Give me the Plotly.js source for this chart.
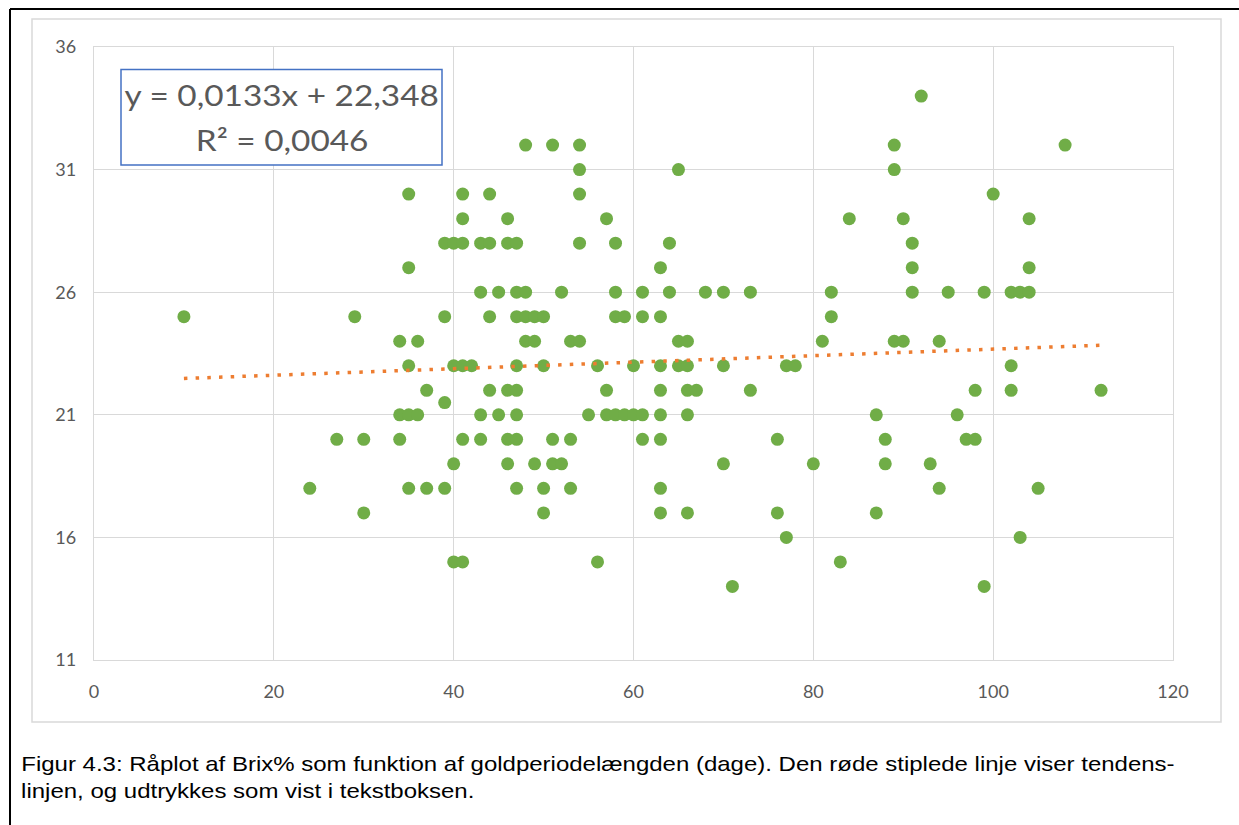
<!DOCTYPE html>
<html>
<head>
<meta charset="utf-8">
<script src="https://cdn.plot.ly/plotly-3.0.1.min.js"></script>
<style>
  html, body { margin: 0; padding: 0; background: #ffffff; }
  #chart { width: 1239px; height: 825px; }
</style>
</head>
<body>
<div id="chart"></div>
<script>
// Dry-period length (days) and Brix% per cow
const goldDays = [
  92,
  48, 51, 54, 89, 108,
  54, 65, 89,
  35, 41, 44, 54, 100,
  41, 46, 57, 84, 90, 104,
  39, 40, 41, 43, 44, 46, 47, 54, 58, 64, 91,
  35, 63, 91, 104,
  43, 45, 47, 48, 52, 58, 61, 64, 68, 70, 73, 82, 91, 95, 99, 102, 103, 104,
  10, 29, 39, 44, 47, 48, 49, 50, 58, 59, 61, 63, 82,
  34, 36, 48, 49, 53, 54, 65, 66, 81, 89, 90, 94,
  35, 40, 41, 42, 47, 50, 56, 60, 63, 65, 66, 70, 77, 78, 102,
  37, 44, 46, 47, 57, 63, 66, 67, 73, 98, 102, 112,
  39,
  34, 35, 36, 43, 45, 47, 55, 57, 58, 59, 60, 61, 63, 66, 87, 96,
  27, 30, 34, 41, 43, 46, 47, 51, 53, 61, 63, 76, 88, 97, 98,
  40, 46, 49, 51, 52, 70, 80, 88, 93,
  24, 35, 37, 39, 47, 50, 53, 63, 94, 105,
  30, 50, 63, 66, 76, 87,
  77, 103,
  40, 41, 56, 83,
  71, 99
];
const brixPct = [
  34,
  32, 32, 32, 32, 32,
  31, 31, 31,
  30, 30, 30, 30, 30,
  29, 29, 29, 29, 29, 29,
  28, 28, 28, 28, 28, 28, 28, 28, 28, 28, 28,
  27, 27, 27, 27,
  26, 26, 26, 26, 26, 26, 26, 26, 26, 26, 26, 26, 26, 26, 26, 26, 26, 26,
  25, 25, 25, 25, 25, 25, 25, 25, 25, 25, 25, 25, 25,
  24, 24, 24, 24, 24, 24, 24, 24, 24, 24, 24, 24,
  23, 23, 23, 23, 23, 23, 23, 23, 23, 23, 23, 23, 23, 23, 23,
  22, 22, 22, 22, 22, 22, 22, 22, 22, 22, 22, 22,
  21.5,
  21, 21, 21, 21, 21, 21, 21, 21, 21, 21, 21, 21, 21, 21, 21, 21,
  20, 20, 20, 20, 20, 20, 20, 20, 20, 20, 20, 20, 20, 20, 20,
  19, 19, 19, 19, 19, 19, 19, 19, 19,
  18, 18, 18, 18, 18, 18, 18, 18, 18, 18,
  17, 17, 17, 17, 17, 17,
  16, 16,
  15, 15, 15, 15,
  14, 14
];

// Linear trend line as printed in the text box
const trendSlope = 0.0133;
const trendIntercept = 22.348;
const trendLabel = 'y = 0,0133x + 22,348';
const r2Label = 'R² = 0,0046';

const xTicks = [0, 20, 40, 60, 80, 100, 120];
const yTicks = [11, 16, 21, 26, 31, 36];

const captionLines = [
  'Figur 4.3: Råplot af Brix% som funktion af goldperiodelængden (dage). Den røde stiplede linje viser tendens-',
  'linjen, og udtrykkes som vist i tekstboksen.'
];

const xMin = Math.min(...goldDays);
const xMax = Math.max(...goldDays);
const trendX = [xMin, xMax];
const trendY = trendX.map(x => trendSlope * x + trendIntercept);

// page geometry (pixels)
const PAGE_W = 1239, PAGE_H = 825;
const M = { l: 94, r: 66, t: 47, b: 165 };
const PW = PAGE_W - M.l - M.r;
const PH = PAGE_H - M.t - M.b;
const px = p => (p - M.l) / PW;
const py = p => (PAGE_H - M.b - p) / PH;

const gridColor = '#d9d9d9';
const labelColor = '#595959';
const labelFont = 'Lato, "Open Sans", sans-serif';
const captionFont = '"Liberation Sans", Arial, sans-serif';

const traces = [
  {
    x: goldDays, y: brixPct,
    type: 'scatter', mode: 'markers',
    marker: { color: '#70ad47', size: 13 },
    hoverinfo: 'x+y', showlegend: false
  },
  {
    x: trendX, y: trendY,
    type: 'scatter', mode: 'lines',
    line: { color: '#ed7d31', width: 3.5, dash: '3.5px,8.2px' },
    hoverinfo: 'skip', showlegend: false
  }
];

const layout = {
  width: PAGE_W, height: PAGE_H,
  margin: M,
  paper_bgcolor: '#ffffff', plot_bgcolor: '#ffffff',
  showlegend: false,
  xaxis: {
    range: [0, 120], tickvals: xTicks, ticktext: xTicks.map(String),
    showgrid: true, gridcolor: gridColor, gridwidth: 1.3,
    zeroline: false, showline: true, linecolor: gridColor, linewidth: 1.3, mirror: true,
    ticks: '', ticklabelstandoff: 15,
    tickfont: { family: labelFont, size: 18, color: labelColor },
    fixedrange: true
  },
  yaxis: {
    range: [11, 36], tickvals: yTicks, ticktext: yTicks.map(String),
    showgrid: true, gridcolor: gridColor, gridwidth: 1.3,
    zeroline: false, showline: true, linecolor: gridColor, linewidth: 1.3, mirror: true,
    ticks: '', ticklabelstandoff: 13,
    tickfont: { family: labelFont, size: 18, color: labelColor },
    fixedrange: true
  },
  shapes: [
    // figure frame (black)
    { type: 'line', xref: 'paper', yref: 'paper', x0: px(10), x1: px(10), y0: py(9), y1: py(826),
      line: { color: '#000000', width: 2 } },
    { type: 'line', xref: 'paper', yref: 'paper', x0: px(10), x1: px(1240), y0: py(9), y1: py(9),
      line: { color: '#000000', width: 2 } },
    // chart area border
    { type: 'rect', xref: 'paper', yref: 'paper', x0: px(32), x1: px(1221), y0: py(19), y1: py(722),
      line: { color: '#d9d9d9', width: 1.5 }, fillcolor: 'rgba(0,0,0,0)', layer: 'below' },
    // trend equation box
    { type: 'rect', xref: 'paper', yref: 'paper', x0: px(121), x1: px(442), y0: py(69.5), y1: py(165),
      line: { color: '#4472c4', width: 1.5 }, fillcolor: '#ffffff', layer: 'above' }
  ],
  annotations: [
    { xref: 'paper', yref: 'paper', x: px(281.5), y: py(94), xanchor: 'center', yanchor: 'middle',
      text: trendLabel, showarrow: false,
      font: { family: labelFont, size: 29, color: labelColor } },
    { xref: 'paper', yref: 'paper', x: px(281.5), y: py(139), xanchor: 'center', yanchor: 'middle',
      text: r2Label, showarrow: false,
      font: { family: labelFont, size: 29, color: labelColor } },
    { xref: 'paper', yref: 'paper', x: px(19), y: py(764), xanchor: 'left', yanchor: 'middle',
      text: captionLines[0], showarrow: false,
      font: { family: captionFont, size: 20, color: '#000000' } },
    { xref: 'paper', yref: 'paper', x: px(19), y: py(791), xanchor: 'left', yanchor: 'middle',
      text: captionLines[1], showarrow: false,
      font: { family: captionFont, size: 20, color: '#000000' } }
  ]
};

// horizontal stretch of each annotation's text (the figure text is set wide)
const textStretch = [
  { s: 1.15, origin: 'center' },
  { s: 1.15, origin: 'center' },
  { s: 1.2, origin: 'left' },
  { s: 1.2, origin: 'left' }
];

Plotly.newPlot('chart', traces, layout, { displayModeBar: false, staticPlot: true }).then(gd => {
  gd.querySelectorAll('g.annotation').forEach(g => {
    const i = +g.getAttribute('data-index');
    const st = textStretch[i];
    const t = g.querySelector('text.annotation-text');
    if (!st || !t) return;
    t.style.transformBox = 'fill-box';
    t.style.transformOrigin = st.origin + ' center';
    t.style.transform = 'scaleX(' + st.s + ')';
  });
});
</script>
</body>
</html>
